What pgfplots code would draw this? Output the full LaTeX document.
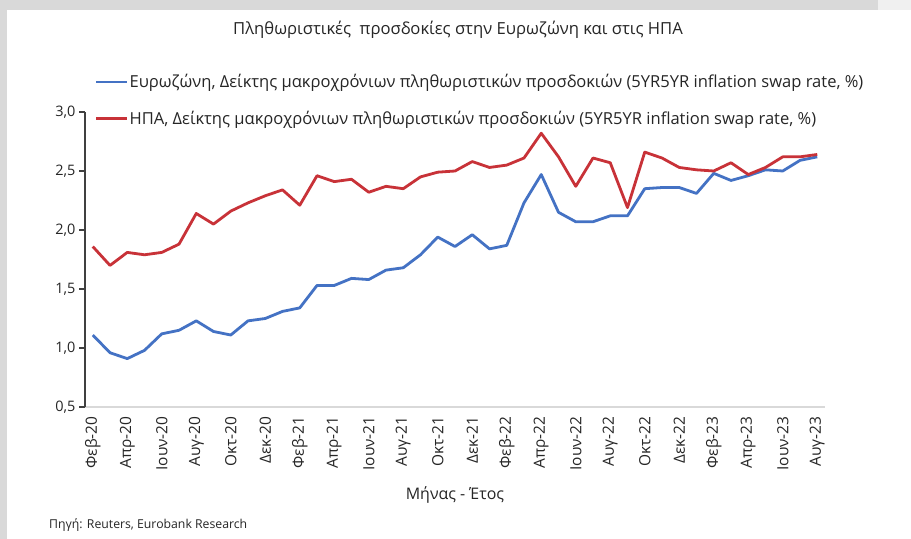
\documentclass[border=0pt]{standalone}
\usepackage{fontspec}
\setmainfont{Open Sans}
\usepackage{pgfplots}
\usepackage{pgfplotstable}
\pgfplotsset{compat=1.18}
\definecolor{ezblue}{RGB}{68,114,196}
\definecolor{usred}{RGB}{200,50,56}
\definecolor{bandgrey}{RGB}{217,217,217}
\definecolor{axisgrey}{RGB}{217,217,217}
\definecolor{txt}{RGB}{38,38,38}
\pgfplotstableread{
x ez us
0 1.11 1.86
1 0.96 1.70
2 0.91 1.81
3 0.98 1.79
4 1.12 1.81
5 1.15 1.88
6 1.23 2.14
7 1.14 2.05
8 1.11 2.16
9 1.23 2.23
10 1.25 2.29
11 1.31 2.34
12 1.34 2.21
13 1.53 2.46
14 1.53 2.41
15 1.59 2.43
16 1.58 2.32
17 1.66 2.37
18 1.68 2.35
19 1.79 2.45
20 1.94 2.49
21 1.86 2.50
22 1.96 2.58
23 1.84 2.53
24 1.87 2.55
25 2.23 2.61
26 2.47 2.82
27 2.15 2.62
28 2.07 2.37
29 2.07 2.61
30 2.12 2.57
31 2.12 2.19
32 2.35 2.66
33 2.36 2.61
34 2.36 2.53
35 2.31 2.51
36 2.48 2.50
37 2.42 2.57
38 2.46 2.47
39 2.51 2.53
40 2.50 2.62
41 2.59 2.62
42 2.62 2.64
}\datatable
\begin{document}
\begin{tikzpicture}[x=1bp,y=1bp]
\useasboundingbox (0bp,0bp) rectangle (911bp,539bp);
\fill[white] (0bp,0bp) rectangle (911bp,539bp);
\fill[bandgrey] (0bp,529bp) rectangle (878bp,539bp);
\fill[black!6] (878bp,529bp) rectangle (911bp,539bp);
\fill[bandgrey] (0bp,0bp) rectangle (7bp,529bp);
\node[font=\fontsize{16.7}{18}\selectfont, text=txt] at (458bp,509bp) {Πληθωριστικές\ \ προσδοκίες στην Ευρωζώνη και στις ΗΠΑ};
\node[font=\fontsize{12.3}{14}\selectfont, anchor=west, text=txt, inner sep=0pt] at (49bp,14bp) {Πηγή: Reuters, Eurobank Research};
\begin{axis}[
  at={(85bp,132bp)}, anchor=south west,
  scale only axis, width=740bp, height=295bp,
  xmin=-0.45, xmax=42.45, ymin=0.5, ymax=3.0,
  axis x line*=bottom, axis y line*=left,
  x axis line style={draw=axisgrey, line width=1.2bp},
  y axis line style={draw=black!75, line width=1.2bp},
  ytick={0.5,1.0,1.5,2.0,2.5,3.0},
  xtick={0,2,...,42},
  xticklabels={Φεβ-20,Απρ-20,Ιουν-20,Αυγ-20,Οκτ-20,Δεκ-20,Φεβ-21,Απρ-21,Ιουν-21,Αυγ-21,Οκτ-21,Δεκ-21,Φεβ-22,Απρ-22,Ιουν-22,Αυγ-22,Οκτ-22,Δεκ-22,Φεβ-23,Απρ-23,Ιουν-23,Αυγ-23},
  x tick label style={rotate=90, anchor=east, font=\fontsize{15.5}{17}\selectfont, text=txt},
  y tick label style={font=\fontsize{14.5}{16}\selectfont, text=txt},
  xtick style={draw=none},
  ytick style={draw=black!75, line width=1.2bp},
  tick align=outside, major tick length=6bp,
  /pgf/number format/.cd, fixed, fixed zerofill, precision=1, use comma, assume math mode=true,
  /pgfplots/.cd,
  xlabel={Μήνας - Έτος},
  every axis x label/.style={at={(axis description cs:0.5,-0.298)}, anchor=center, font=\fontsize{16}{18}\selectfont, text=txt},
  legend style={draw=none, fill=none, at={(axis description cs:0.013,1.131)}, anchor=north west,
    font=\fontsize{16.6}{18}\selectfont, text=txt, row sep=20bp, inner sep=0pt,
    nodes={inner sep=1bp}},
  legend cell align=left,
  legend image code/.code={\draw[#1] (0bp,0bp) -- (31bp,0bp);},
  every axis plot/.append style={line width=2.8bp, line join=round},
]
\addplot[ezblue] table[x=x, y=ez] {\datatable};
\addlegendentry{Ευρωζώνη, Δείκτης μακροχρόνιων πληθωριστικών προσδοκιών (5YR5YR inflation swap rate, \%)}
\addplot[usred] table[x=x, y=us] {\datatable};
\addlegendentry{ΗΠΑ, Δείκτης μακροχρόνιων πληθωριστικών προσδοκιών (5YR5YR inflation swap rate, \%)}
\end{axis}
\end{tikzpicture}
\end{document}
